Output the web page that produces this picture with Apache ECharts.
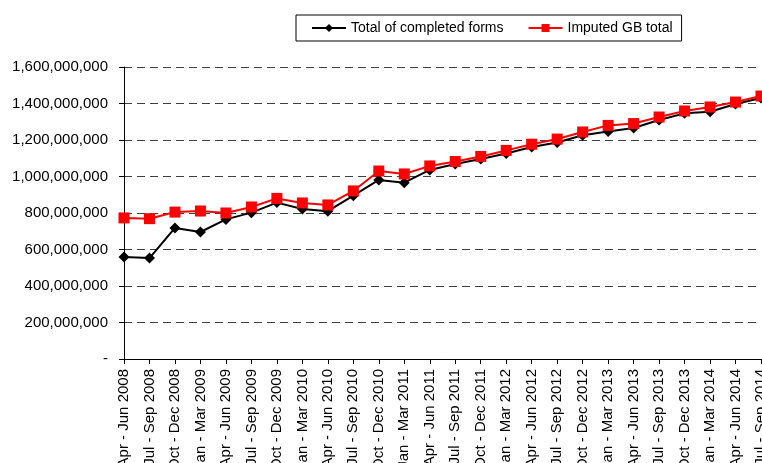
<!DOCTYPE html>
<html>
<head>
<meta charset="utf-8">
<script src="https://cdn.jsdelivr.net/npm/echarts@6/dist/echarts.min.js"></script>
<style>
  html, body { margin: 0; padding: 0; background: #fff; }
  #chart { width: 762px; height: 463px; }
</style>
</head>
<body>
<div id="chart"></div>
<script>
var quarters = [
  'Apr - Jun 2008', 'Jul - Sep 2008', 'Oct - Dec 2008', 'Jan - Mar 2009',
  'Apr - Jun 2009', 'Jul - Sep 2009', 'Oct - Dec 2009', 'Jan - Mar 2010',
  'Apr - Jun 2010', 'Jul - Sep 2010', 'Oct - Dec 2010', 'Jan - Mar 2011',
  'Apr - Jun 2011', 'Jul - Sep 2011', 'Oct - Dec 2011', 'Jan - Mar 2012',
  'Apr - Jun 2012', 'Jul - Sep 2012', 'Oct - Dec 2012', 'Jan - Mar 2013',
  'Apr - Jun 2013', 'Jul - Sep 2013', 'Oct - Dec 2013', 'Jan - Mar 2014',
  'Apr - Jun 2014', 'Jul - Sep 2014'
]
// values in millions
var completedForms = [559, 553, 718, 696, 765, 802, 857, 822, 810, 895, 981, 966, 1036,
  1068, 1096, 1126, 1162, 1186, 1226, 1246, 1266, 1310, 1346, 1355, 1397, 1430]
var imputedTotal = [773, 769, 805, 811, 800, 833, 880, 855, 844, 921, 1030, 1014, 1058,
  1082, 1110, 1143, 1177, 1205, 1244, 1280, 1290, 1326, 1359, 1381, 1408, 1441]

var toUnits = function (arr) {
  return arr.map(function (v) { return v * 1000000 })
}

var fmt = function (v) {
  if (v === 0) return '-'
  return String(v).replace(/\B(?=(\d{3})+(?!\d))/g, ',')
}

var chart = echarts.init(document.getElementById('chart'))
chart.setOption({
  animation: false,
  textStyle: { fontFamily: 'Arial, "Liberation Sans", sans-serif' },
  legend: {
    left: 296,
    top: 15,
    padding: [6, 9, 6, 15],
    borderColor: '#000',
    borderWidth: 1,
    itemWidth: 34,
    itemHeight: 10,
    itemGap: 24,
    textStyle: { fontSize: 14, color: '#000' },
    data: ['Total of completed forms', 'Imputed GB total']
  },
  grid: {
    left: 124,
    right: 1,
    top: 67,
    bottom: 104,
    containLabel: false,
    outerBoundsMode: 'none'
  },
  xAxis: {
    type: 'category',
    data: quarters,
    boundaryGap: false,
    axisLine: { lineStyle: { color: '#000', width: 1 } },
    axisTick: { show: true, alignWithLabel: true, interval: 0, length: 5, lineStyle: { color: '#000' } },
    axisLabel: { interval: 0, rotate: 90, color: '#000', fontSize: 15, margin: 10 }
  },
  yAxis: {
    type: 'value',
    min: 0,
    max: 1600000000,
    interval: 200000000,
    axisLine: { show: true, lineStyle: { color: '#000', width: 1 } },
    axisTick: { show: true, length: 5, lineStyle: { color: '#000' } },
    axisLabel: { color: '#000', fontSize: 15, margin: 16, formatter: fmt },
    splitLine: { lineStyle: { color: '#404040', width: 1, type: [8, 5] } }
  },
  series: [
    {
      name: 'Total of completed forms',
      type: 'line',
      data: toUnits(completedForms),
      symbol: 'diamond',
      symbolSize: 11,
      itemStyle: { color: '#000' },
      lineStyle: { color: '#000', width: 2 }
    },
    {
      name: 'Imputed GB total',
      type: 'line',
      data: toUnits(imputedTotal),
      symbol: 'rect',
      symbolSize: 11,
      itemStyle: { color: '#ff0000' },
      lineStyle: { color: '#ff0000', width: 2 }
    }
  ]
})
</script>
</body>
</html>
